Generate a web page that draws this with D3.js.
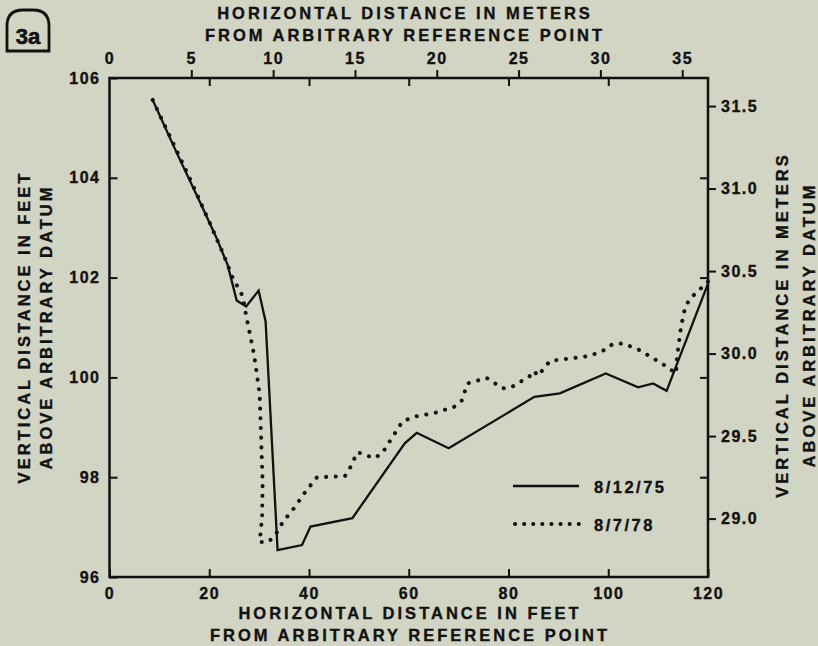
<!DOCTYPE html>
<html>
<head>
<meta charset="utf-8">
<script src="https://cdn.jsdelivr.net/npm/d3@7/dist/d3.min.js"></script>
<style>
  html, body { margin: 0; padding: 0; background: #d2d4c4; }
  svg { display: block; }
  text { font-family: "Liberation Sans", Arial, sans-serif; font-weight: bold; fill: #111; stroke: #111; stroke-width: 0.35px; }
</style>
</head>
<body>
<svg id="chart" width="818" height="646"></svg>
<script>
// ---------------- data ----------------
const feetXTicks = [0, 20, 40, 60, 80, 100, 120];
const feetYTicks = [96, 98, 100, 102, 104, 106];
const meterXTicks = [0, 5, 10, 15, 20, 25, 30, 35];
const meterYTicks = [29.0, 29.5, 30.0, 30.5, 31.0, 31.5];
const meterYLabels = ["29.0", "29.5", "30.0", "30.5", "31.0", "31.5"];

const seriesNames = ["8/12/75", "8/7/78"];

// 8/12/75 profile (horizontal ft, vertical ft)
const profile1975X = [8.66, 13.3, 18.2, 21.3, 23.7, 25.5, 27.4, 29.9, 31.3, 33.7, 38.6, 40.3, 48.7, 59.2, 61.6, 68.0, 85.2, 90.3, 99.5, 106.0, 109.0, 111.7, 120.0];
const profile1975Y = [105.56, 104.54, 103.5, 102.83, 102.25, 101.54, 101.42, 101.74, 101.12, 96.54, 96.64, 97.01, 97.18, 98.68, 98.89, 98.58, 99.61, 99.68, 100.08, 99.80, 99.88, 99.73, 101.88];

// 8/7/78 profile (horizontal ft, vertical ft)
const profile1978X = [8.66, 16.4, 20.3, 23.0, 24.6, 25.7, 26.7, 27.4, 29.0, 30.1, 30.7, 30.6, 30.1, 31.8, 33.2, 34.8, 37.0, 39.3, 41.6, 47.2, 48.2, 49.7, 51.3, 53.0, 54.6, 58.7, 60.9, 65.3, 69.1, 70.6, 71.8, 73.6, 75.6, 78.8, 80.7, 84.2, 85.1, 85.9, 88.3, 96.3, 99.5, 100.9, 103.0, 106.2, 110.9, 113.6, 113.8, 114.6, 115.4, 116.4, 119.3, 120.0];
const profile1978Y = [105.56, 103.92, 103.05, 102.43, 102.02, 101.81, 101.63, 101.24, 100.45, 99.67, 97.9, 97.2, 96.70, 96.70, 96.83, 97.11, 97.38, 97.71, 98.0, 98.02, 98.18, 98.5, 98.45, 98.38, 98.47, 99.11, 99.21, 99.29, 99.41, 99.53, 99.88, 99.93, 99.99, 99.78, 99.81, 100.02, 100.13, 100.03, 100.33, 100.43, 100.56, 100.67, 100.68, 100.55, 100.27, 100.08, 100.42, 101.02, 101.40, 101.58, 101.85, 101.92];

// ---------------- layout ----------------
const INK = "#111";
const L = 109.5, R = 708, T = 78, B = 577;
const svg = d3.select("#chart");

const x = d3.scaleLinear().domain([0, 120]).range([L, R]);
const y = d3.scaleLinear().domain([96, 106]).range([B, T]);
const xm = d3.scaleLinear().domain([0, 120 / 3.2808]).range([L, R]);
const ym = d3.scaleLinear().domain([28.646, 31.670]).range([B, T]);

function styleAxis(g, fs, ls) {
  g.select(".domain").remove();
  g.selectAll(".tick line").attr("stroke", INK).attr("stroke-width", 2);
  g.selectAll(".tick text")
    .attr("fill", INK)
    .style("font-family", '"Liberation Sans", Arial, sans-serif')
    .style("font-weight", "bold")
    .style("font-size", fs + "px")
    .style("letter-spacing", ls + "px");
}

// bottom feet axis (inward ticks)
svg.append("g").attr("transform", `translate(0,${B})`)
  .call(d3.axisBottom(x).tickValues(feetXTicks).tickSize(-8).tickSizeOuter(0).tickPadding(11).tickFormat(d3.format("d")))
  .call(g => styleAxis(g, 16, 1.5));
// left feet axis (inward ticks)
svg.append("g").attr("transform", `translate(${L},0)`)
  .call(d3.axisLeft(y).tickValues(feetYTicks).tickSize(-8).tickSizeOuter(0).tickPadding(9).tickFormat(d3.format("d")))
  .call(g => styleAxis(g, 16, 1.5));
// right mirror of feet ticks (inward, no labels)
svg.append("g").attr("transform", `translate(${R},0)`)
  .call(d3.axisRight(y).tickValues(feetYTicks.slice(1, -1)).tickSize(-8).tickSizeOuter(0).tickFormat(""))
  .call(g => styleAxis(g, 16, 1.5));
// top mirror of feet ticks (inward, no labels)
svg.append("g").attr("transform", `translate(0,${T})`)
  .call(d3.axisTop(x).tickValues(feetXTicks.slice(1, -1)).tickSize(-8).tickSizeOuter(0).tickFormat(""))
  .call(g => styleAxis(g, 16, 1.5));
// top meter axis (outward ticks)
svg.append("g").attr("transform", `translate(0,${T})`)
  .call(d3.axisTop(xm).tickValues(meterXTicks).tickSize(8).tickSizeOuter(0).tickPadding(6).tickFormat(d3.format("d")))
  .call(g => styleAxis(g, 16, 1.5))
  .call(g => g.selectAll(".tick").filter(d => d === 0).select("line").remove());
// right meter axis (outward ticks)
svg.append("g").attr("transform", `translate(${R},0)`)
  .call(d3.axisRight(ym).tickValues(meterYTicks).tickSize(8).tickSizeOuter(0).tickPadding(5).tickFormat((d, i) => meterYLabels[i]))
  .call(g => styleAxis(g, 16, 1.5));

// frame
svg.append("rect").attr("x", L).attr("y", T).attr("width", R - L).attr("height", B - T)
  .attr("fill", "none").attr("stroke", INK).attr("stroke-width", 2.5);

// lines
const line = d3.line().x(d => x(d[0])).y(d => y(d[1]));
const data1975 = profile1975X.map((v, i) => [v, profile1975Y[i]]);
const data1978 = profile1978X.map((v, i) => [v, profile1978Y[i]]);

svg.append("path").datum(data1975).attr("d", line)
  .attr("fill", "none").attr("stroke", INK).attr("stroke-width", 2.3).attr("stroke-linejoin", "miter");
svg.append("path").datum(data1978).attr("d", line)
  .attr("fill", "none").attr("stroke", INK).attr("stroke-width", 4)
  .attr("stroke-linecap", "round").attr("stroke-dasharray", "0.1,9.6");

// legend
const lg = svg.append("g");
lg.append("line").attr("x1", 513).attr("x2", 579).attr("y1", 486).attr("y2", 486)
  .attr("stroke", INK).attr("stroke-width", 2.4);
lg.append("line").attr("x1", 515).attr("x2", 580).attr("y1", 524).attr("y2", 524)
  .attr("stroke", INK).attr("stroke-width", 4).attr("stroke-linecap", "round").attr("stroke-dasharray", "0.1,9");
lg.selectAll("text.leg").data(seriesNames).join("text").attr("class", "leg")
  .attr("x", 594).attr("y", (d, i) => 493 + i * 38)
  .style("font-size", "16.5px").style("letter-spacing", "2.5px").text(d => d);

// titles
const title = (txt, xx, yy, rot) => {
  const t = svg.append("text").attr("text-anchor", "middle")
    .style("font-size", "16.5px").style("letter-spacing", "3px").text(txt);
  if (rot) t.attr("transform", `translate(${xx},${yy}) rotate(-90)`);
  else t.attr("x", xx).attr("y", yy);
};
title("HORIZONTAL DISTANCE IN METERS", 405, 19);
title("FROM ARBITRARY REFERENCE POINT", 405, 41);
title("HORIZONTAL DISTANCE IN FEET", 410, 619);
title("FROM ARBITRARY REFERENCE POINT", 410, 641);
title("VERTICAL DISTANCE IN FEET", 30, 327, true);
title("ABOVE ARBITRARY DATUM", 52, 327, true);
title("VERTICAL DISTANCE IN METERS", 788, 325, true);
title("ABOVE ARBITRARY DATUM", 815, 325, true);

// figure tag "3a"
const bx0 = 7, bx1 = 49, by0 = 10, by1 = 51, r = 16;
svg.append("path")
  .attr("d", `M${bx0},${by1} L${bx0},${by0 + r} Q${bx0},${by0} ${bx0 + r},${by0} L${bx1 - r},${by0} Q${bx1},${by0} ${bx1},${by0 + r} L${bx1},${by1} Z`)
  .attr("fill", "none").attr("stroke", INK).attr("stroke-width", 2.8);
svg.append("text").attr("x", (bx0 + bx1) / 2).attr("y", 44).attr("text-anchor", "middle")
  .style("font-size", "22px").style("stroke-width", "0.6px").text("3a");
</script>
</body>
</html>
